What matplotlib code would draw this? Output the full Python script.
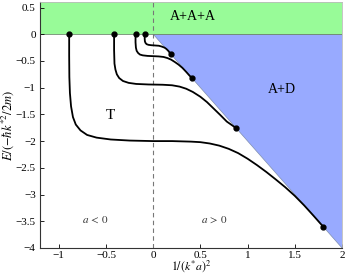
import matplotlib
matplotlib.use("Agg")
import matplotlib.pyplot as plt
from matplotlib.patches import Polygon, Rectangle

plt.rcParams['font.family'] = ['Liberation Serif', 'DejaVu Serif']
plt.rcParams['mathtext.fontset'] = 'stix'

# Trimer branches: x = 1/(k*a)^2, y = E/(-hbar k*^2/2m)
c1_x = [-0.89, -0.89, -0.888, -0.882, -0.87, -0.85, -0.82, -0.77, -0.70, -0.60, -0.45, -0.25, 0.0, 0.2, 0.4,
        0.5, 0.6, 0.7, 0.8, 0.9, 1.0, 1.1, 1.2, 1.3, 1.4, 1.5, 1.6, 1.7, 1.8]
c1_y = [0.0, -0.4, -0.8, -1.1, -1.35, -1.55, -1.69, -1.80, -1.885, -1.935, -1.97, -1.99, -2.0, -2.0, -2.01,
        -2.02, -2.045, -2.085, -2.145, -2.225, -2.33, -2.45, -2.58, -2.72, -2.865, -3.025, -3.205, -3.40, -3.60]

c2_x = [-0.414, -0.414, -0.41, -0.40, -0.385, -0.36, -0.32, -0.26, -0.18, -0.05, 0.1, 0.2, 0.28, 0.35,
        0.42, 0.5, 0.57, 0.64, 0.71, 0.78, 0.878]
c2_y = [0.0, -0.3, -0.55, -0.66, -0.75, -0.82, -0.875, -0.91, -0.93, -0.94, -0.945, -0.955, -0.98, -1.02,
        -1.08, -1.17, -1.27, -1.39, -1.51, -1.635, -1.756]

c3_x = [-0.187, -0.187, -0.183, -0.175, -0.16, -0.14, -0.11, -0.06, 0.0, 0.06, 0.11, 0.15, 0.19, 0.23,
        0.27, 0.31, 0.35, 0.38, 0.41]
c3_y = [0.0, -0.15, -0.25, -0.31, -0.35, -0.38, -0.395, -0.405, -0.41, -0.415, -0.425, -0.445, -0.475,
        -0.52, -0.57, -0.63, -0.705, -0.765, -0.82]

c4_x = [-0.09, -0.09, -0.088, -0.082, -0.07, -0.05, -0.02, 0.02, 0.06, 0.09, 0.12, 0.14, 0.16, 0.175, 0.188]
c4_y = [0.0, -0.08, -0.13, -0.16, -0.185, -0.198, -0.205, -0.21, -0.215, -0.23, -0.25, -0.275, -0.31,
        -0.345, -0.376]

curves = [(c1_x, c1_y), (c2_x, c2_y), (c3_x, c3_y), (c4_x, c4_y)]

# Regions
green_y = [0.0, 0.6]
blue_corners_x = [0.0, 2.0, 2.0]
blue_corners_y = [0.0, 0.0, -4.0]

xticks = [-1, -0.5, 0, 0.5, 1, 1.5, 2]
xticklabels = ['\u22121', '\u22120.5', '0', '0.5', '1', '1.5', '2']
yticks = [0.5, 0, -0.5, -1, -1.5, -2, -2.5, -3, -3.5, -4]
yticklabels = ['0.5', '0', '\u22120.5', '\u22121', '\u22121.5', '\u22122', '\u22122.5', '\u22123', '\u22123.5', '\u22124']

fig = plt.figure(figsize=(3.47, 2.77), dpi=100)
ax = fig.add_axes([0.115, 0.105, 0.8705, 0.887])
ax.set_xlim(-1.2, 2)
ax.set_ylim(-4, 0.6)

ax.add_patch(Rectangle((-1.2, green_y[0]), 3.2, green_y[1] - green_y[0], facecolor='#98FB98',
                       edgecolor='none', zorder=1))
ax.axhline(0, color='#6a8a6a', lw=0.6, zorder=1.5)
ax.add_patch(Polygon(list(zip(blue_corners_x, blue_corners_y)), closed=True, facecolor='#98AAFF',
                     edgecolor='#7f8fb0', lw=0.5, zorder=1))
ax.axvline(0, color='#777777', lw=0.8, ls=(0, (4, 3)), zorder=2)

for xs, ys in curves:
    ax.plot(xs, ys, color='black', lw=1.3, zorder=3, solid_capstyle='round')
    ax.plot([xs[0], xs[-1]], [ys[0], ys[-1]], 'o', color='black', ms=3.5, zorder=4)

ax.text(-0.45, -1.53, 'T', fontsize=11, ha='center', va='center')
ax.text(0.416, 0.33, 'A+A+A', fontsize=10, ha='center', va='center')
ax.text(1.36, -1.03, 'A+D', fontsize=10, ha='center', va='center')
ax.text(-0.61, -3.48, r'$a\,<\,0$', fontsize=8, ha='center', va='center', color='#333333')
ax.text(0.645, -3.48, r'$a\,>\,0$', fontsize=8, ha='center', va='center', color='#333333')

ax.set_xticks(xticks)
ax.set_xticklabels(xticklabels)
ax.set_yticks(yticks)
ax.set_yticklabels(yticklabels)
ax.tick_params(direction='in', labelsize=8, length=3, width=0.6, top=False, right=False)
ax.tick_params(axis='x', pad=2)
ax.tick_params(axis='y', pad=3)
ax.set_xlabel(r'$1/(k^{*}a)^{2}$', fontsize=8.5, labelpad=-1)
ax.set_ylabel(r'$E/(-\hbar k^{*2}/2m)$', fontsize=9, labelpad=0)

for s in ['left', 'bottom']:
    ax.spines[s].set_color('#333333')
    ax.spines[s].set_linewidth(0.8)
for s in ['top', 'right']:
    ax.spines[s].set_color('#bbbbbb')
    ax.spines[s].set_linewidth(0.6)

fig.savefig('out.png', dpi=100)
